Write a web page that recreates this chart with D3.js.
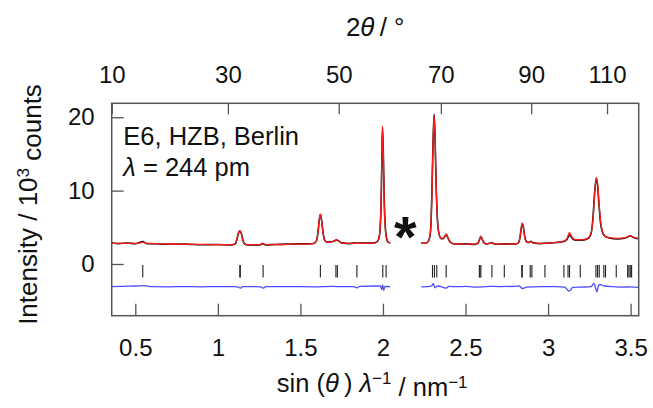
<!DOCTYPE html>
<html>
<head>
<meta charset="utf-8">
<script src="https://cdn.jsdelivr.net/npm/d3@7"></script>
<style>
  body { margin: 0; background: #fff; }
  text { font-family: "Liberation Sans", Arial, sans-serif; fill: #111; }
</style>
</head>
<body>
<div id="chart"></div>
<script>
var fullWidth = 653;
var fullHeight = 408;
var margin = {top: 103.3, right: 14.3, bottom: 92.3, left: 111.7};
var width = fullWidth - margin.left - margin.right;
var height = fullHeight - margin.top - margin.bottom;

var lambda = 0.244; // nm
var xTicks = [0.5, 1, 1.5, 2, 2.5, 3, 3.5];
var yTicks = [0, 10, 20];
var twoThetaTicks = [10, 30, 50, 70, 90, 110];

// calculated profile (red), two segments around the excluded region
var calcLeft = [
  [0.357, 2.82], [0.45, 2.8], [0.52, 2.82], [0.545, 2.98], [0.57, 2.8], [0.7, 2.72], [0.9, 2.66],
  [1.08, 2.62], [1.105, 2.75], [1.115, 3.4], [1.125, 4.3], [1.133, 4.55], [1.141, 4.2], [1.15, 3.3],
  [1.16, 2.75], [1.18, 2.62], [1.255, 2.64], [1.272, 2.85], [1.288, 2.64], [1.45, 2.7], [1.58, 2.78],
  [1.597, 3.1], [1.607, 4.5], [1.615, 6.2], [1.621, 6.78], [1.628, 6.0], [1.637, 4.2], [1.647, 3.2],
  [1.66, 2.95], [1.69, 3.0], [1.705, 3.15], [1.718, 3.3], [1.732, 3.1], [1.75, 2.85], [1.83, 2.8],
  [1.842, 2.95], [1.855, 2.8], [1.94, 2.82], [1.963, 3.0], [1.975, 3.5], [1.983, 5.0], [1.989, 9.0],
  [1.993, 14.0], [1.997, 18.8], [2.002, 15.0], [2.008, 8.0], [2.015, 4.6], [2.022, 3.6],
  [2.032, 3.0], [2.044, 2.85]
];
var calcRight = [
  [2.232, 2.8], [2.26, 2.85], [2.276, 3.1], [2.288, 4.5], [2.296, 9.0], [2.303, 16.0], [2.31, 20.2],
  [2.316, 17.0], [2.322, 11.0], [2.33, 6.0], [2.34, 4.0], [2.352, 3.5], [2.365, 3.5], [2.375, 3.8],
  [2.383, 4.1], [2.392, 3.6], [2.405, 3.0], [2.43, 2.75], [2.55, 2.7], [2.575, 2.85], [2.585, 3.4],
  [2.593, 3.8], [2.6, 3.4], [2.61, 2.9], [2.63, 2.75], [2.66, 2.85], [2.68, 2.7], [2.8, 2.72],
  [2.82, 2.9], [2.83, 3.7], [2.838, 5.0], [2.844, 5.55], [2.851, 4.9], [2.86, 3.5], [2.872, 2.95],
  [2.885, 2.9], [2.897, 3.05], [2.91, 2.85], [2.95, 2.8], [3.05, 2.95], [3.1, 3.15], [3.115, 3.5],
  [3.125, 4.1], [3.13, 4.27], [3.137, 4.0], [3.15, 3.5], [3.17, 3.3], [3.2, 3.3], [3.24, 3.5],
  [3.26, 4.2], [3.272, 6.0], [3.282, 9.5], [3.292, 11.8], [3.3, 11.0], [3.308, 8.5], [3.318, 5.8],
  [3.33, 4.4], [3.345, 3.8], [3.37, 3.6], [3.42, 3.5], [3.47, 3.6], [3.485, 3.75], [3.498, 3.9],
  [3.51, 3.75], [3.53, 3.55], [3.549, 3.5]
];

// observed profile (black)
var obsLeft = [
  [0.357, 2.9], [0.4, 2.78], [0.45, 2.86], [0.5, 2.76], [0.545, 3.05], [0.57, 2.78], [0.62, 2.76],
  [0.7, 2.68], [0.8, 2.7], [0.9, 2.62], [1.0, 2.66], [1.08, 2.6], [1.105, 2.72], [1.115, 3.3],
  [1.125, 4.2], [1.133, 4.5], [1.141, 4.25], [1.15, 3.4], [1.16, 2.8], [1.18, 2.58], [1.255, 2.6],
  [1.272, 2.75], [1.288, 2.6], [1.35, 2.66], [1.45, 2.72], [1.58, 2.8], [1.597, 3.15], [1.607, 4.4],
  [1.615, 6.1], [1.621, 6.72], [1.628, 6.05], [1.637, 4.3], [1.647, 3.25], [1.66, 2.98], [1.69, 3.02],
  [1.705, 3.12], [1.718, 3.28], [1.732, 3.15], [1.75, 2.88], [1.8, 2.78], [1.842, 2.9], [1.855, 2.84],
  [1.94, 2.86], [1.963, 3.02], [1.975, 3.45], [1.983, 4.8], [1.989, 8.6], [1.993, 13.6],
  [1.997, 18.6], [2.002, 15.4], [2.008, 8.4], [2.015, 4.8], [2.022, 3.5], [2.032, 2.95], [2.044, 2.9]
];
var obsRight = [
  [2.232, 2.85], [2.26, 2.82], [2.276, 3.15], [2.288, 4.4], [2.296, 9.3], [2.303, 16.3], [2.31, 20.4],
  [2.316, 16.8], [2.322, 10.8], [2.33, 6.1], [2.34, 4.1], [2.352, 3.45], [2.365, 3.45], [2.375, 3.75],
  [2.383, 4.0], [2.392, 3.65], [2.405, 3.05], [2.43, 2.72], [2.5, 2.74], [2.55, 2.66], [2.575, 2.82],
  [2.585, 3.35], [2.593, 3.75], [2.6, 3.42], [2.61, 2.95], [2.63, 2.72], [2.66, 2.9], [2.68, 2.68],
  [2.75, 2.74], [2.8, 2.7], [2.82, 2.88], [2.83, 3.6], [2.838, 4.9], [2.844, 5.5], [2.851, 4.95],
  [2.86, 3.6], [2.872, 3.0], [2.885, 2.95], [2.897, 3.1], [2.91, 2.88], [2.95, 2.78], [3.0, 2.86],
  [3.05, 2.92], [3.1, 3.1], [3.115, 3.35], [3.125, 3.8], [3.13, 3.95], [3.137, 3.8], [3.15, 3.4],
  [3.17, 3.25], [3.2, 3.25], [3.24, 3.45], [3.26, 4.1], [3.272, 6.3], [3.282, 9.7], [3.292, 11.6],
  [3.3, 10.7], [3.308, 8.2], [3.318, 5.6], [3.33, 4.3], [3.345, 3.75], [3.37, 3.55], [3.42, 3.42],
  [3.47, 3.55], [3.485, 3.7], [3.498, 3.85], [3.51, 3.7], [3.53, 3.5], [3.549, 3.45]
];

// difference obs - calc, shown with offset (blue)
var diffLeft = [
  [0.357, -3.1], [0.42, -3.05], [0.5, -3.0], [0.55, -2.95], [0.6, -3.1], [0.7, -3.12], [0.8, -3.08],
  [0.9, -3.12], [1.0, -3.08], [1.1, -3.1], [1.125, -3.15], [1.135, -3.3], [1.15, -3.1], [1.2, -3.08],
  [1.26, -3.12], [1.274, -3.3], [1.29, -3.1], [1.4, -3.08], [1.5, -3.1], [1.6, -3.12], [1.625, -3.1],
  [1.7, -3.05], [1.75, -3.1], [1.82, -3.08], [1.842, -3.25], [1.86, -3.05], [1.95, -3.0],
  [1.985, -3.0], [1.993, -3.5], [1.998, -2.85], [2.004, -3.6], [2.012, -3.05], [2.044, -3.1]
];
var diffRight = [
  [2.232, -3.12], [2.27, -3.1], [2.295, -3.0], [2.305, -2.65], [2.315, -3.25], [2.33, -3.0],
  [2.36, -3.15], [2.383, -3.3], [2.4, -3.05], [2.45, -3.1], [2.5, -3.05], [2.55, -3.15], [2.6, -3.12],
  [2.65, -3.05], [2.7, -3.08], [2.8, -3.05], [2.825, -3.0], [2.845, -3.35], [2.87, -3.15],
  [2.95, -3.1], [3.05, -3.1], [3.1, -3.15], [3.128, -3.7], [3.15, -3.2], [3.2, -3.15], [3.26, -3.1],
  [3.278, -2.65], [3.288, -3.3], [3.296, -3.8], [3.305, -3.0], [3.315, -2.8], [3.34, -3.0],
  [3.4, -3.1], [3.45, -3.15], [3.5, -3.12], [3.549, -3.2]
];

// Bragg reflection positions
var reflections = [
  0.545, 1.133, 1.136, 1.274, 1.621, 1.715, 1.724, 1.842, 1.999, 2.019,
  2.300, 2.312, 2.326, 2.383, 2.584, 2.587, 2.593, 2.660, 2.735, 2.841, 2.844,
  2.892, 2.902, 2.981, 3.096, 3.121, 3.130, 3.195, 3.290, 3.300, 3.310,
  3.338, 3.348, 3.413, 3.482, 3.490, 3.498, 3.506
];

var xDomain = [0.357, 3.549];
var yDomain = [-7.05, 21.9];

var svg = d3.select("#chart")
  .append("svg")
  .attr("width", fullWidth)
  .attr("height", fullHeight);

var g = svg.append("g")
  .attr("transform", "translate(" + margin.left + "," + margin.top + ")");

var xScale = d3.scaleLinear().domain(xDomain).range([0, width]);
var yScale = d3.scaleLinear().domain(yDomain).range([height, 0]);

function toQ(tt) {
  return Math.sin(tt / 2 * Math.PI / 180) / lambda;
}

var axisColor = "#555";

// bottom axis
var xAxis = d3.axisBottom(xScale)
  .tickValues(xTicks)
  .tickFormat(d3.format(""))
  .tickSizeInner(-12).tickSizeOuter(0).tickPadding(23);
g.append("g").attr("class", "axis")
  .attr("transform", "translate(0," + height + ")")
  .call(xAxis);

// top axis in 2 theta
var topAxis = d3.axisTop(xScale)
  .tickValues(twoThetaTicks.map(toQ))
  .tickFormat(function(d, i) { return twoThetaTicks[i]; })
  .tickSizeInner(-11).tickSizeOuter(0).tickPadding(20);
g.append("g").attr("class", "axis").call(topAxis);

// left axis
var yAxis = d3.axisLeft(yScale)
  .tickValues(yTicks)
  .tickSizeInner(-12).tickSizeOuter(0).tickPadding(17);
g.append("g").attr("class", "axis").call(yAxis);

g.selectAll(".axis .domain").remove();
g.selectAll(".axis line").attr("stroke", axisColor).attr("stroke-width", 1.3);
g.selectAll(".axis text")
  .style("font-size", "24px")
  .attr("fill", "#111");

// reflection markers
g.append("g").selectAll("line")
  .data(reflections)
  .enter().append("line")
  .attr("x1", function(d) { return xScale(d); })
  .attr("x2", function(d) { return xScale(d); })
  .attr("y1", yScale(-0.15))
  .attr("y2", yScale(-1.85))
  .attr("stroke", "#222")
  .attr("stroke-width", 1.1);

var line = d3.line()
  .x(function(d) { return xScale(d[0]); })
  .y(function(d) { return yScale(d[1]); })
  .curve(d3.curveMonotoneX);

[obsLeft, obsRight].forEach(function(seg) {
  g.append("path").datum(seg)
    .attr("d", line)
    .attr("fill", "none")
    .attr("stroke", "#111")
    .attr("stroke-width", 1.6);
});
[calcLeft, calcRight].forEach(function(seg) {
  g.append("path").datum(seg)
    .attr("d", line)
    .attr("fill", "none")
    .attr("stroke", "#ff1a1a")
    .attr("stroke-width", 1.3);
});
[diffLeft, diffRight].forEach(function(seg) {
  g.append("path").datum(seg)
    .attr("d", line)
    .attr("fill", "none")
    .attr("stroke", "#4d4dff")
    .attr("stroke-width", 1.3);
});

// frame
g.append("rect")
  .attr("width", width)
  .attr("height", height)
  .attr("fill", "none")
  .attr("stroke", axisColor)
  .attr("stroke-width", 1.5);

// excluded region marker
g.append("text")
  .attr("x", xScale(2.135))
  .attr("y", yScale(6.6))
  .attr("text-anchor", "middle")
  .attr("dy", "0.72em")
  .style("font-size", "58px")
  .style("font-weight", "bold")
  .text("*");

// instrument label
var label = g.append("text")
  .attr("x", 11.6)
  .attr("y", 41.7)
  .style("font-size", "25.5px")
  .text("E6, HZB, Berlin");
var lam = g.append("text")
  .attr("x", 11.6)
  .attr("y", 72.7)
  .style("font-size", "25.5px");
lam.append("tspan").style("font-style", "italic").text("λ");
lam.append("tspan").text(" = 244 pm");

// axis titles
var topTitle = svg.append("text")
  .attr("x", margin.left + width / 2)
  .attr("y", 35.7)
  .attr("text-anchor", "middle")
  .style("font-size", "26px");
topTitle.append("tspan").text("2");
topTitle.append("tspan").style("font-style", "italic").text("θ\u2009");
topTitle.append("tspan").text("/ °");

var xTitle = svg.append("text")
  .attr("x", margin.left + width / 2 - 3)
  .attr("y", 391.7)
  .attr("text-anchor", "middle")
  .style("font-size", "25.5px");
xTitle.append("tspan").text("sin (");
xTitle.append("tspan").style("font-style", "italic").text("θ\u2009");
xTitle.append("tspan").text(") ");
xTitle.append("tspan").style("font-style", "italic").text("λ");
xTitle.append("tspan").attr("dy", "-0.45em").style("font-size", "17px").text("−1");
xTitle.append("tspan").attr("dy", "0.45em").text(" / nm");
xTitle.append("tspan").attr("dy", "-0.45em").style("font-size", "17px").text("−1");

var yTitle = svg.append("text")
  .attr("transform", "translate(37," + (margin.top + height / 2 - 5) + ") rotate(-90)")
  .attr("text-anchor", "middle")
  .style("font-size", "26px");
yTitle.append("tspan").text("Intensity / 10");
yTitle.append("tspan").attr("dy", "-0.45em").style("font-size", "17px").text("3");
yTitle.append("tspan").attr("dy", "0.45em").text(" counts");
</script>
</body>
</html>
